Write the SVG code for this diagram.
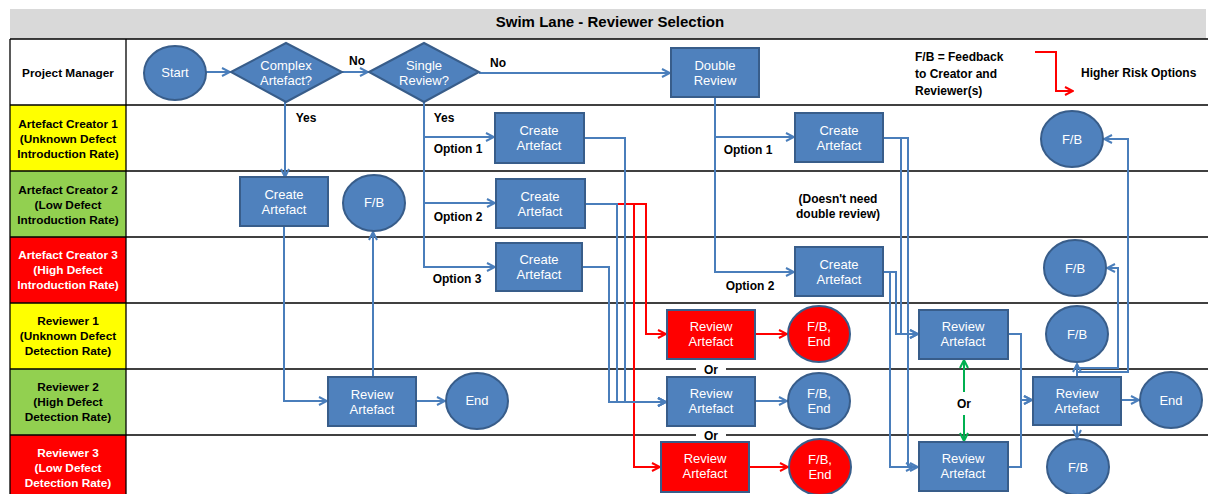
<svg xmlns="http://www.w3.org/2000/svg" width="1208" height="494" viewBox="0 0 1208 494">
  <defs>
    <style>
      text { font-family: "Liberation Sans", Arial, sans-serif; }
      .lane-label { font-size: 11.8px; font-weight: bold; text-anchor: middle; fill: #000; }
      .lane-label.inv { fill: #fff; }
      .title { font-size: 15px; font-weight: bold; text-anchor: middle; fill: #000; }
      .lbl { font-size: 12px; font-weight: bold; fill: #000; }
      .lbl.c { text-anchor: middle; }
      .node-text { font-size: 13px; fill: #fff; text-anchor: middle; }
      .box { fill: #4f81bd; stroke: #385d8a; stroke-width: 2; }
      .box.risk { fill: #ff0000; stroke: #385d8a; }
      .lane-line { stroke: #000; stroke-width: 1.3; }
      .edge { fill: none; stroke: #4a7ebb; stroke-width: 2; marker-end: url(#arrow-blue); }
      .edge.red { stroke: #ff0000; marker-end: url(#arrow-red); }
      .edge.green { stroke: #00b050; marker-end: url(#arrow-green); }
    </style>
    <marker id="arrow-blue" viewBox="0 0 10 10" refX="9" refY="5" markerWidth="10" markerHeight="10" markerUnits="userSpaceOnUse" orient="auto">
      <path d="M1,1 L9,5 L1,9" fill="none" stroke="#4a7ebb" stroke-width="2"/>
    </marker>
    <marker id="arrow-red" viewBox="0 0 10 10" refX="9" refY="5" markerWidth="10" markerHeight="10" markerUnits="userSpaceOnUse" orient="auto">
      <path d="M1,1 L9,5 L1,9" fill="none" stroke="#ff0000" stroke-width="2"/>
    </marker>
    <marker id="arrow-green" viewBox="0 0 10 10" refX="9" refY="5" markerWidth="10" markerHeight="10" markerUnits="userSpaceOnUse" orient="auto">
      <path d="M1,1 L9,5 L1,9" fill="none" stroke="#00b050" stroke-width="2"/>
    </marker>
  </defs>

  <rect x="0" y="0" width="1208" height="494" fill="#fff"/>

  <!-- title bar -->
  <g id="title">
    <rect x="10" y="9" width="1196" height="30" fill="#d9d9d9"/>
    <text class="title" x="610" y="27">Swim Lane - Reviewer Selection</text>
  </g>

  <!-- lane header cells -->
  <g id="lanes">
    <rect x="10" y="105" width="116" height="66" fill="#ffff00"/>
    <rect x="10" y="171" width="116" height="66" fill="#92d050"/>
    <rect x="10" y="237" width="116" height="66" fill="#ff0000"/>
    <rect x="10" y="303" width="116" height="66" fill="#ffff00"/>
    <rect x="10" y="369" width="116" height="66" fill="#92d050"/>
    <rect x="10" y="435" width="116" height="59" fill="#ff0000"/>

    <line class="lane-line" x1="10" y1="39" x2="1208" y2="39" stroke-width="2"/>
    <line class="lane-line" x1="10" y1="105" x2="1208" y2="105"/>
    <line class="lane-line" x1="10" y1="171" x2="1208" y2="171"/>
    <line class="lane-line" x1="10" y1="237" x2="1208" y2="237"/>
    <line class="lane-line" x1="10" y1="303" x2="1208" y2="303"/>
    <line class="lane-line" x1="10" y1="369" x2="1208" y2="369"/>
    <line class="lane-line" x1="10" y1="435" x2="1208" y2="435"/>
    <line class="lane-line" x1="10" y1="39" x2="10" y2="494"/>
    <line class="lane-line" x1="126" y1="39" x2="126" y2="494"/>

    <text class="lane-label" x="68" y="77">Project Manager</text>
    <text class="lane-label" x="68" y="128">Artefact Creator 1<tspan x="68" dy="15">(Unknown Defect</tspan><tspan x="68" dy="15">Introduction Rate)</tspan></text>
    <text class="lane-label" x="68" y="194">Artefact Creator 2<tspan x="68" dy="15">(Low Defect</tspan><tspan x="68" dy="15">Introduction Rate)</tspan></text>
    <text class="lane-label inv" x="68" y="259">Artefact Creator 3<tspan x="68" dy="15">(High Defect</tspan><tspan x="68" dy="15">Introduction Rate)</tspan></text>
    <text class="lane-label" x="68" y="325">Reviewer 1<tspan x="68" dy="15">(Unknown Defect</tspan><tspan x="68" dy="15">Detection Rate)</tspan></text>
    <text class="lane-label" x="68" y="391">Reviewer 2<tspan x="68" dy="15">(High Defect</tspan><tspan x="68" dy="15">Detection Rate)</tspan></text>
    <text class="lane-label inv" x="68" y="457">Reviewer 3<tspan x="68" dy="15">(Low Defect</tspan><tspan x="68" dy="15">Detection Rate)</tspan></text>
  </g>

  <!-- connectors -->
  <g id="connectors">
    <!-- red routes (higher risk) -->
    <path class="edge red" d="M618,204 H646 V334 H666"/>
    <path class="edge red" d="M618,204 H634 V467 H660"/>
    <path class="edge red" d="M755,334 H787"/>
    <path class="edge red" d="M749,467 H788"/>

    <path class="edge" d="M205,72 H230"/>
    <path class="edge" d="M342,72 H368"/>
    <path class="edge" d="M479,73 H670"/>
    <path class="edge" d="M285,102 V177"/>
    <path class="edge" d="M424,102 V137 H494"/>
    <path class="edge" d="M424,137 V203 H495"/>
    <path class="edge" d="M424,203 V267 H495"/>
    <path class="edge" d="M284,226 V401 H327"/>
    <path class="edge" d="M373,377 V232"/>
    <path class="edge" d="M416,401 H445"/>
    <path class="edge" d="M584,138 H625 V402 H666"/>
    <path class="edge" d="M585,204 H617 V402 H666"/>
    <path class="edge" d="M582,267 H609 V402 H666"/>
    <path class="edge" d="M755,401 H787"/>
    <path class="edge" d="M715,97 V137 H794"/>
    <path class="edge" d="M715,137 V272 H794"/>
    <path class="edge" d="M883,138 H901 V334 H918"/>
    <path class="edge" d="M883,138 H908 V467 H918"/>
    <path class="edge" d="M883,272 H896 V334 H918"/>
    <path class="edge" d="M883,272 H890 V467 H914"/>
    <path class="edge" d="M1008,334 H1021 V400 H1032"/>
    <path class="edge" d="M1008,467 H1021 V400 H1032"/>
    <path class="edge" d="M1121,400 H1139"/>
    <path class="edge" d="M1077,425 V438"/>
    <path class="edge" d="M1077,377 V364"/>
    <path class="edge" d="M1077,377 V368 H1118 V268 H1107"/>
    <path class="edge" d="M1077,377 V372 H1128 V139 H1104"/>

    <!-- either reviewer -->
    <path class="edge green" d="M964,392 V360"/>
    <path class="edge green" d="M964,415 V441"/>

    <!-- legend sample -->
    <path class="edge red" d="M1035,52 H1056 V91 H1073"/>
  </g>

  <!-- edge labels -->
  <g id="labels">
    <text class="lbl c" x="357" y="65">No</text>
    <text class="lbl c" x="498" y="67">No</text>
    <text class="lbl c" x="306" y="122">Yes</text>
    <text class="lbl c" x="444" y="122">Yes</text>
    <text class="lbl c" x="458" y="153">Option 1</text>
    <text class="lbl c" x="458" y="221">Option 2</text>
    <text class="lbl c" x="457" y="283">Option 3</text>
    <text class="lbl c" x="748" y="154">Option 1</text>
    <text class="lbl c" x="750" y="290">Option 2</text>
    <text class="lbl c" x="838" y="203">(Doesn't need<tspan x="838" dy="15">double review)</tspan></text>
    <rect x="696" y="362" width="30" height="15" fill="#fff"/>
    <text class="lbl c" x="711" y="374">Or</text>
    <rect x="696" y="428" width="30" height="15" fill="#fff"/>
    <text class="lbl c" x="711" y="440">Or</text>
    <text class="lbl c" x="964" y="408">Or</text>
    <text class="lbl" x="915" y="61">F/B = Feedback<tspan x="915" dy="17">to Creator and</tspan><tspan x="915" dy="17">Reviewer(s)</tspan></text>
    <text class="lbl" x="1081" y="77" font-size="11">Higher Risk Options</text>
  </g>

  <!-- Project Manager lane -->
  <g id="start">
    <ellipse class="box" cx="175" cy="73" rx="31" ry="27"/>
    <text class="node-text" x="175" y="77">Start</text>
  </g>
  <g id="complex-artefact">
    <polygon class="box" points="231,72 286,43 342,72 286,102"/>
    <text class="node-text" x="286" y="70">Complex<tspan x="286" dy="15">Artefact?</tspan></text>
  </g>
  <g id="single-review">
    <polygon class="box" points="369,72 424,43 479,72 424,102"/>
    <text class="node-text" x="424" y="70">Single<tspan x="424" dy="15">Review?</tspan></text>
  </g>
  <g id="double-review">
    <rect class="box" x="671" y="48" width="88" height="49"/>
    <text class="node-text" x="715" y="70">Double<tspan x="715" dy="15">Review</tspan></text>
  </g>

  <!-- complex artefact path -->
  <g id="create-complex">
    <rect class="box" x="240" y="177" width="88" height="49"/>
    <text class="node-text" x="284" y="199">Create<tspan x="284" dy="15">Artefact</tspan></text>
  </g>
  <g id="fb-complex">
    <ellipse class="box" cx="374" cy="203" rx="31" ry="28"/>
    <text class="node-text" x="374" y="207">F/B</text>
  </g>
  <g id="review-complex">
    <rect class="box" x="328" y="377" width="88" height="49"/>
    <text class="node-text" x="372" y="399">Review<tspan x="372" dy="15">Artefact</tspan></text>
  </g>
  <g id="end-complex">
    <ellipse class="box" cx="477" cy="401" rx="31" ry="28"/>
    <text class="node-text" x="477" y="405">End</text>
  </g>

  <!-- single review path -->
  <g id="create-opt1">
    <rect class="box" x="495" y="113" width="89" height="50"/>
    <text class="node-text" x="539" y="135">Create<tspan x="539" dy="15">Artefact</tspan></text>
  </g>
  <g id="create-opt2">
    <rect class="box" x="496" y="179" width="89" height="49"/>
    <text class="node-text" x="540" y="201">Create<tspan x="540" dy="15">Artefact</tspan></text>
  </g>
  <g id="create-opt3">
    <rect class="box" x="496" y="243" width="86" height="48"/>
    <text class="node-text" x="539" y="264">Create<tspan x="539" dy="15">Artefact</tspan></text>
  </g>
  <g id="review-r1-single">
    <rect class="box risk" x="667" y="310" width="88" height="49"/>
    <text class="node-text" x="711" y="331">Review<tspan x="711" dy="15">Artefact</tspan></text>
  </g>
  <g id="fbend-r1-single">
    <ellipse class="box risk" cx="819" cy="334" rx="31" ry="28"/>
    <text class="node-text" x="819" y="331">F/B,<tspan x="819" dy="15">End</tspan></text>
  </g>
  <g id="review-r2-single">
    <rect class="box" x="667" y="377" width="88" height="49"/>
    <text class="node-text" x="711" y="398">Review<tspan x="711" dy="15">Artefact</tspan></text>
  </g>
  <g id="fbend-r2-single">
    <ellipse class="box" cx="819" cy="401" rx="31" ry="28"/>
    <text class="node-text" x="819" y="398">F/B,<tspan x="819" dy="15">End</tspan></text>
  </g>
  <g id="review-r3-single">
    <rect class="box risk" x="661" y="442" width="88" height="50"/>
    <text class="node-text" x="705" y="463">Review<tspan x="705" dy="15">Artefact</tspan></text>
  </g>
  <g id="fbend-r3-single">
    <ellipse class="box risk" cx="820" cy="467" rx="31" ry="28"/>
    <text class="node-text" x="820" y="464">F/B,<tspan x="820" dy="15">End</tspan></text>
  </g>

  <!-- double review path -->
  <g id="create-double-opt1">
    <rect class="box" x="795" y="113" width="88" height="49"/>
    <text class="node-text" x="839" y="135">Create<tspan x="839" dy="15">Artefact</tspan></text>
  </g>
  <g id="create-double-opt2">
    <rect class="box" x="795" y="247" width="88" height="49"/>
    <text class="node-text" x="839" y="269">Create<tspan x="839" dy="15">Artefact</tspan></text>
  </g>
  <g id="review-r1-double">
    <rect class="box" x="919" y="310" width="89" height="49"/>
    <text class="node-text" x="963" y="331">Review<tspan x="963" dy="15">Artefact</tspan></text>
  </g>
  <g id="review-r3-double">
    <rect class="box" x="919" y="442" width="89" height="49"/>
    <text class="node-text" x="963" y="463">Review<tspan x="963" dy="15">Artefact</tspan></text>
  </g>
  <g id="review-r2-double">
    <rect class="box" x="1033" y="377" width="88" height="48"/>
    <text class="node-text" x="1077" y="398">Review<tspan x="1077" dy="15">Artefact</tspan></text>
  </g>
  <g id="end-double">
    <ellipse class="box" cx="1171" cy="400" rx="31" ry="28"/>
    <text class="node-text" x="1171" y="405">End</text>
  </g>
  <g id="fb-ac1">
    <ellipse class="box" cx="1072" cy="139" rx="31" ry="28"/>
    <text class="node-text" x="1072" y="144">F/B</text>
  </g>
  <g id="fb-ac3">
    <ellipse class="box" cx="1075" cy="268" rx="31" ry="28"/>
    <text class="node-text" x="1075" y="273">F/B</text>
  </g>
  <g id="fb-r1">
    <ellipse class="box" cx="1077" cy="334" rx="31" ry="28"/>
    <text class="node-text" x="1077" y="339">F/B</text>
  </g>
  <g id="fb-r3">
    <ellipse class="box" cx="1078" cy="467" rx="31" ry="28"/>
    <text class="node-text" x="1078" y="472">F/B</text>
  </g>
</svg>
